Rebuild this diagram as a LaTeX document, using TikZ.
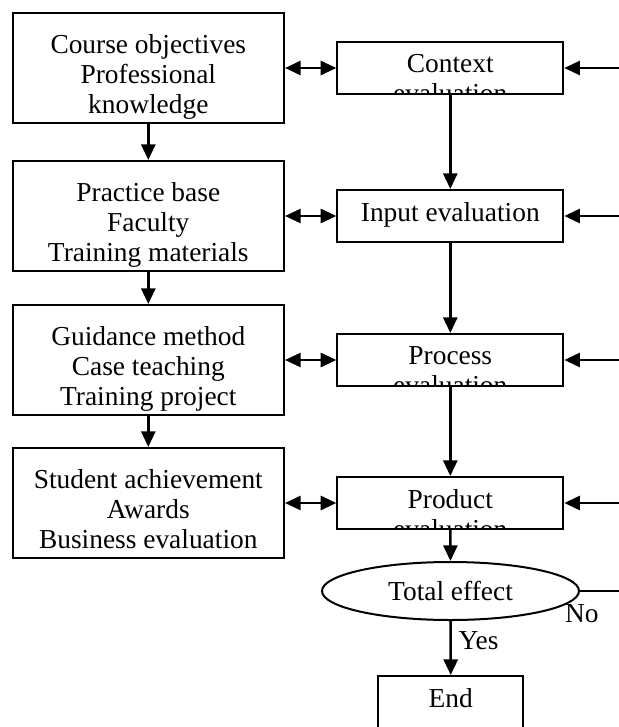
\documentclass[tikz,border=0pt]{standalone}
\usepackage{fontspec}
\setmainfont{Liberation Serif}
\usetikzlibrary{arrows.meta,shapes.geometric}

\tikzset{
  lbox/.style={draw, line width=1pt, minimum width=135.7pt, minimum height=55pt, inner sep=0pt},
  evalbox/.style={draw, line width=1pt, minimum width=113pt, minimum height=26pt, inner sep=0pt},
  decision/.style={draw, ellipse, line width=1pt, minimum width=128.5pt, minimum height=29pt, inner sep=0pt},
  boxtext/.style 2 args={path picture={
      \node[draw=none, inner sep=0pt, minimum width=0pt, minimum height=0pt, align=center, anchor=north]
        at ([yshift=#1]path picture bounding box.north) {#2};}},
  arr/.style={-{Triangle[length=7.8pt,width=7pt]}, line width=1.3pt},
  darr/.style={{Triangle[length=7.8pt,width=7pt]}-{Triangle[length=7.8pt,width=7pt]}, line width=1.3pt}
}

\begin{document}
\begin{tikzpicture}[x=0.5pt, y=-0.5pt, font=\fontsize{13.7}{15}\selectfont]
  \clip (0,0) rectangle (619,727);
  \coordinate (edge) at (619,0);
  % Left column
  \node[lbox, boxtext={-10.2pt}{Course objectives\\Professional\\knowledge}] (obj) at (148.3,68) {};
  \node[lbox, boxtext={-10.2pt}{Practice base\\Faculty\\Training materials}] (base) at (148.3,216) {};
  \node[lbox, boxtext={-10.2pt}{Guidance method\\Case teaching\\Training project}] (method) at (148.3,360) {};
  \node[lbox, boxtext={-10.2pt}{Student achievement\\Awards\\Business evaluation}] (achieve) at (148.3,503) {};
  % Evaluation column
  \node[evalbox, boxtext={-5.8pt}{Context\\evaluation}] (ctx) at (450.3,68) {};
  \node[evalbox, boxtext={-5.8pt}{Input evaluation}] (inp) at (450.3,216) {};
  \node[evalbox, boxtext={-5.8pt}{Process\\evaluation}] (proc) at (450.3,360) {};
  \node[evalbox, boxtext={-5.8pt}{Product\\evaluation}] (prod) at (450.3,503) {};
  \node[decision] (tot) at (450.5,591) {Total effect};
  \node[evalbox, minimum width=72.5pt, boxtext={-5.8pt}{End}] (fin) at (450.8,702) {};
  % Arrows
  \draw[arr] (obj) -- (base);
  \draw[arr] (base) -- (method);
  \draw[arr] (method) -- (achieve);
  \draw[arr] (ctx) -- (inp);
  \draw[arr] (inp) -- (proc);
  \draw[arr] (proc) -- (prod);
  \draw[arr] (prod) -- (tot);
  \draw[arr] (tot) -- (fin) node[pos=0.36, right] {Yes};
  \foreach \a/\b in {obj/ctx, base/inp, method/proc, achieve/prod}
    \draw[darr] (\a.east) -- (\b.west);
  \foreach \b in {ctx, inp, proc, prod}
    \draw[arr] (edge |- \b.east) -- (\b.east);
  \draw[line width=1.3pt] (tot.east) -- (edge |- tot.east) node[pos=0.05, below, yshift=-3pt] {No};
\end{tikzpicture}
\end{document}
